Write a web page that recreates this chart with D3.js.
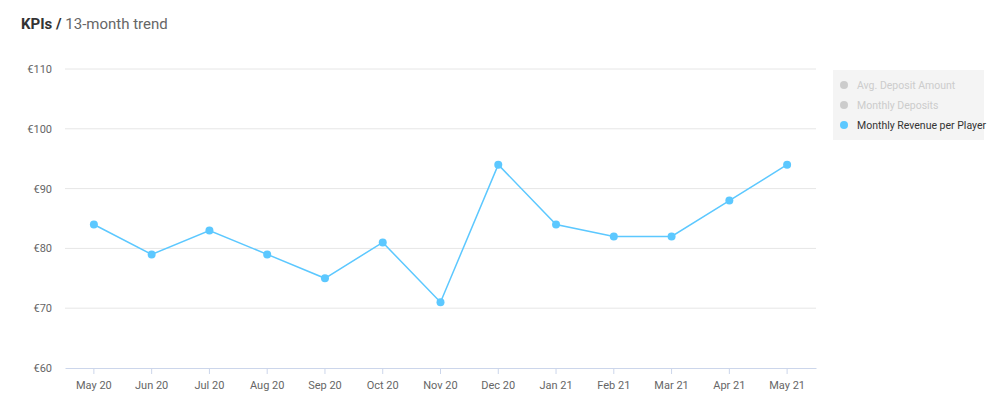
<!DOCTYPE html>
<html><head><meta charset="utf-8">
<script src="https://cdn.jsdelivr.net/npm/d3@7"></script>
<style>body{margin:0;background:#fff;font-family:Roboto,sans-serif}</style>
</head><body><svg id="chart" width="1000" height="410"></svg>
<script>
const MONTHS = ['May 20','Jun 20','Jul 20','Aug 20','Sep 20','Oct 20','Nov 20','Dec 20','Jan 21','Feb 21','Mar 21','Apr 21','May 21'];
const REVENUE = [84, 79, 83, 79, 75, 81, 71, 94, 84, 82, 82, 88, 94];
const Y_TICKS = [60, 70, 80, 90, 100, 110];
const LEGEND = [
  { name: 'Avg. Deposit Amount', color: '#cccccc', text: '#cccccc' },
  { name: 'Monthly Deposits', color: '#cccccc', text: '#cccccc' },
  { name: 'Monthly Revenue per Player', color: '#5cc8ff', text: '#333333' }
];

(function () {
const svg = d3.select('#chart');
const plotLeft = 65, plotRight = 816, plotTop = 69, plotBottom = 368;

const title = svg.append('text').attr('x', 21).attr('y', 29).attr('font-size', 15);
title.append('tspan').attr('font-weight', 'bold').attr('fill', '#333').text('KPIs / ');
title.append('tspan').attr('fill', '#666').text('13-month trend');

const x = d3.scaleBand().domain(MONTHS).range([plotLeft, plotRight]);
const y = d3.scaleLinear().domain([60, 110]).range([plotBottom, plotTop]);

svg.append('g').selectAll('line').data(Y_TICKS.slice(1)).join('line')
  .attr('x1', plotLeft).attr('x2', plotRight)
  .attr('y1', d => y(d)).attr('y2', d => y(d))
  .attr('stroke', '#e6e6e6');

svg.append('g').selectAll('text').data(Y_TICKS).join('text')
  .attr('x', 52).attr('y', d => y(d) + 4).attr('text-anchor', 'end')
  .attr('font-size', 11).attr('fill', '#666').text(d => '€' + d);

const xAxis = svg.append('g').attr('transform', `translate(0,${plotBottom})`)
  .call(d3.axisBottom(x).tickSize(6).tickSizeOuter(0));
xAxis.select('.domain').attr('stroke', '#ccd6eb');
xAxis.selectAll('.tick line').attr('stroke', '#ccd6eb');
xAxis.selectAll('.tick text').attr('fill', '#666').attr('font-size', 11)
  .attr('font-family', 'Roboto, sans-serif').attr('dy', '1.1em');

const line = d3.line().x((d, i) => x(MONTHS[i]) + x.bandwidth() / 2).y(d => y(d));
svg.append('path').datum(REVENUE).attr('d', line)
  .attr('fill', 'none').attr('stroke', '#5cc8ff').attr('stroke-width', 1.5);
svg.append('g').selectAll('circle').data(REVENUE).join('circle')
  .attr('cx', (d, i) => x(MONTHS[i]) + x.bandwidth() / 2).attr('cy', d => y(d))
  .attr('r', 4).attr('fill', '#5cc8ff');

const lg = svg.append('g').attr('transform', 'translate(833,70)');
lg.append('rect').attr('width', 151).attr('height', 70).attr('fill', '#f4f4f4');
const items = lg.selectAll('g').data(LEGEND).join('g')
  .attr('transform', (d, i) => `translate(0,${15 + i * 20})`);
items.append('circle').attr('cx', 11).attr('cy', 0).attr('r', 4).attr('fill', d => d.color);
items.append('text').attr('x', 24).attr('y', 4).attr('font-size', 10.5)
  .attr('fill', d => d.text).text(d => d.name);
})();
</script></body></html>
